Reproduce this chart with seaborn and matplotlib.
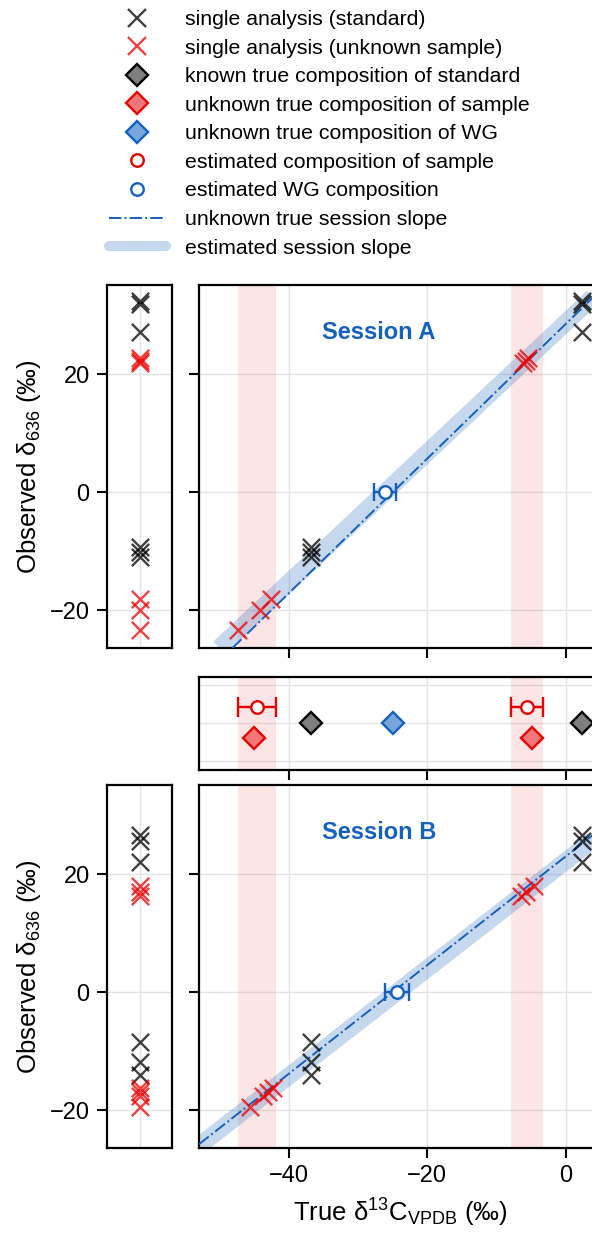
import matplotlib
matplotlib.use("Agg")
import matplotlib.pyplot as plt
from matplotlib.lines import Line2D
import seaborn as sns
import pandas as pd

# ---------------- data ----------------
std_true = [-36.8, 2.3]          # known true composition of standards
smp_true = [-45.0, -4.9]         # unknown true composition of samples
wg_true = -25.0                  # unknown true composition of WG

smp_est = [-44.55, -5.6]         # estimated sample composition
smp_err = [2.75, 2.3]            # its uncertainty

sessions = ["A", "B"]
true_slope = {"A": 1.14, "B": 0.92}
est_slope = {"A": 1.10, "B": 0.91}
wg_est = {"A": -26.1, "B": -24.4}
wg_err = {"A": 1.6, "B": 1.7}

# single analyses: observed delta636 values
A_std1_obs = [-9.3, -10.2, -10.9]
A_std2_obs = [32.4, 31.8, 27.2]
A_smp1_obs = [-18.1, -19.9, -23.4]
A_smp1_x = [-42.6, -44.2, -47.4]
A_smp2_obs = [21.9, 22.3, 22.7]
A_smp2_x = [-6.2, -5.8, -5.4]

B_std1_obs = [-8.4, -11.8, -14.0]
B_std2_obs = [26.6, 25.6, 22.0]
B_smp1_obs = [-19.4, -17.6, -16.9, -16.3]
B_smp1_x = [-45.7, -43.7, -43.0, -42.3]
B_smp2_obs = [16.3, 16.9, 18.0]
B_smp2_x = [-6.5, -5.8, -4.6]

obs = {
    "A": dict(std1=A_std1_obs, std2=A_std2_obs, smp1=A_smp1_obs, smp1x=A_smp1_x,
              smp2=A_smp2_obs, smp2x=A_smp2_x),
    "B": dict(std1=B_std1_obs, std2=B_std2_obs, smp1=B_smp1_obs, smp1x=B_smp1_x,
              smp2=B_smp2_obs, smp2x=B_smp2_x),
}

x_ticks = [-40, -20, 0]
y_ticks = [-20, 0, 20]

# ---------------- style ----------------
sns.set_theme(style="ticks")
plt.rcParams["font.family"] = ["Liberation Sans", "DejaVu Sans"]
plt.rcParams["mathtext.fontset"] = "custom"
plt.rcParams["mathtext.rm"] = "Liberation Sans"
plt.rcParams["mathtext.it"] = "Liberation Sans:italic"
plt.rcParams["mathtext.bf"] = "Liberation Sans:bold"
plt.rcParams["axes.linewidth"] = 1.6
plt.rcParams["axes.edgecolor"] = "black"
for k in ["text.color", "axes.labelcolor", "xtick.color", "ytick.color"]:
    plt.rcParams[k] = "black"

BLUE = "#1560bd"
BAND = (0.1, 0.4, 0.75, 0.25)
RED = "#e60000"
RED_CROSS = (0.92, 0.0, 0.0)
GRID = "#e4e4e4"
FS = 17
LABFS = 18.5
LFS = 15.3

W, H = 592, 1233
fig = plt.figure(figsize=(W / 100, H / 100), dpi=100)


def fr(left, top, right, bottom):
    return [left / W, 1 - bottom / H, (right - left) / W, (bottom - top) / H]


ylim = (-26.4, 35.1)
xlim = (-53.0, 5.1)

ax_sA = fig.add_axes(fr(107, 285, 172, 648))
ax_mA = fig.add_axes(fr(199, 285, 601, 648))
ax_mid = fig.add_axes(fr(199, 677, 601, 770))
ax_sB = fig.add_axes(fr(107, 785, 172, 1148))
ax_mB = fig.add_axes(fr(199, 785, 601, 1148))


def style_axes(ax):
    ax.grid(True, color=GRID, lw=1.0, zorder=0)
    ax.set_axisbelow(True)
    ax.tick_params(length=7.5, width=1.5, pad=5, labelsize=FS, color="black",
                   labelcolor="black")
    for s in ax.spines.values():
        s.set_linewidth(1.6)
        s.set_color("black")


def crosses(ax, x, y, color):
    df = pd.DataFrame({"x": x, "y": y})
    sns.scatterplot(data=df, x="x", y="y", ax=ax, marker="x", s=155, color=color,
                    linewidth=1.7, alpha=0.75, zorder=5, legend=False)


for ses, ax_s, ax_m in [("A", ax_sA, ax_mA), ("B", ax_sB, ax_mB)]:
    d = obs[ses]
    # strip panel
    style_axes(ax_s)
    for key, col in [("std1", "black"), ("std2", "black"), ("smp1", RED_CROSS), ("smp2", RED_CROSS)]:
        crosses(ax_s, [0] * len(d[key]), d[key], col)
    ax_s.set_xlim(-1, 1)
    ax_s.set_xticks([0])
    ax_s.tick_params(axis="x", length=0, labelbottom=False)
    ax_s.set_ylim(*ylim)
    ax_s.set_yticks(y_ticks)
    ax_s.set_yticklabels(["\u221220", "0", "20"])
    ax_s.set_xlabel("")
    ax_s.set_ylabel("Observed δ$_{636}$ (‰)", fontsize=LABFS, labelpad=5)

    # main panel
    style_axes(ax_m)
    for c, e in zip(smp_est, smp_err):
        ax_m.axvspan(c - e, c + e, color=(0.93, 0.1, 0.1), alpha=0.11, lw=0, zorder=1)
    ax_m.axline((wg_est[ses], 0), slope=est_slope[ses], color=BAND, lw=12.5,
                solid_capstyle="butt", zorder=2)
    ax_m.axline((wg_true, 0), slope=true_slope[ses], color=BLUE, lw=1.4, ls="-.", zorder=3)
    crosses(ax_m, [std_true[0]] * len(d["std1"]), d["std1"], "black")
    crosses(ax_m, [std_true[1]] * len(d["std2"]), d["std2"], "black")
    crosses(ax_m, d["smp1x"], d["smp1"], RED_CROSS)
    crosses(ax_m, d["smp2x"], d["smp2"], RED_CROSS)
    ax_m.errorbar([wg_est[ses]], [0], xerr=[wg_err[ses]], fmt="o", ms=9, mfc="white",
                  mec=BLUE, mew=1.7, ecolor=BLUE, elinewidth=1.7, capsize=6.5,
                  capthick=1.7, zorder=6)
    ax_m.set_xlim(*xlim)
    ax_m.set_ylim(*ylim)
    ax_m.set_xticks(x_ticks)
    ax_m.set_yticks(y_ticks)
    ax_m.tick_params(labelleft=False)
    ax_m.set_xlabel("")
    ax_m.set_ylabel("")
    ax_m.text(0.306, 0.87, f"Session {ses}", transform=ax_m.transAxes, color=BLUE,
              fontsize=FS, fontweight="bold", ha="left", va="center")

ax_mA.tick_params(labelbottom=False)
ax_mB.set_xticklabels(["\u221240", "\u221220", "0"])
ax_mB.set_xlabel("True δ$^{13}$C$_{\\mathrm{VPDB}}$ (‰)", fontsize=LABFS, labelpad=7)

# middle panel: true vs estimated compositions
style_axes(ax_mid)
for c, e in zip(smp_est, smp_err):
    ax_mid.axvspan(c - e, c + e, color=(0.93, 0.1, 0.1), alpha=0.11, lw=0, zorder=1)
ax_mid.errorbar(smp_est, [0.4, 0.4], xerr=smp_err, fmt="o", ms=9, mfc="white",
                mec=RED, mew=1.7, ecolor=RED, elinewidth=1.7, capsize=7.5,
                capthick=1.7, zorder=6, ls="none")
DMS = 11.5
ax_mid.plot(smp_true, [-0.4, -0.4], "D", ms=DMS, mfc="#f07878", mec=RED, mew=1.7, zorder=5, ls="none")
ax_mid.plot(std_true, [0, 0], "D", ms=DMS, mfc="#7f7f7f", mec="black", mew=1.7, zorder=5, ls="none")
ax_mid.plot([wg_true], [0], "D", ms=DMS, mfc="#78a6dc", mec=BLUE, mew=1.7, zorder=5, ls="none")
ax_mid.set_xlim(*xlim)
ax_mid.set_ylim(-1.25, 1.2)
ax_mid.set_xticks(x_ticks)
ax_mid.set_yticks([-1, 0, 1])
ax_mid.tick_params(axis="y", length=0, labelleft=False)
ax_mid.tick_params(axis="x", labelbottom=False)

# legend
handles = [
    Line2D([], [], marker="x", ls="none", color="black", alpha=0.75, ms=12.4, mew=1.7),
    Line2D([], [], marker="x", ls="none", color=RED_CROSS, alpha=0.75, ms=12.4, mew=1.7),
    Line2D([], [], marker="D", ls="none", ms=DMS, mfc="#7f7f7f", mec="black", mew=1.7),
    Line2D([], [], marker="D", ls="none", ms=DMS, mfc="#f07878", mec=RED, mew=1.7),
    Line2D([], [], marker="D", ls="none", ms=DMS, mfc="#78a6dc", mec=BLUE, mew=1.7),
    Line2D([], [], marker="o", ls="none", ms=9, mfc="white", mec=RED, mew=1.7),
    Line2D([], [], marker="o", ls="none", ms=9, mfc="white", mec=BLUE, mew=1.7),
    Line2D([], [], color=BLUE, lw=1.4, ls="-."),
    Line2D([], [], color=BAND, lw=7.2),
]
labels = [
    "single analysis (standard)",
    "single analysis (unknown sample)",
    "known true composition of standard",
    "unknown true composition of sample",
    "unknown true composition of WG",
    "estimated composition of sample",
    "estimated WG composition",
    "unknown true session slope",
    "estimated session slope",
]
fig.legend(handles, labels, loc="upper left", bbox_to_anchor=(109 / W, 1 - 10 / H),
           frameon=False, fontsize=LFS, handlelength=2.68, handletextpad=0.9,
           labelspacing=0.45, borderpad=0, borderaxespad=0)

fig.savefig("out.png", dpi=100)
